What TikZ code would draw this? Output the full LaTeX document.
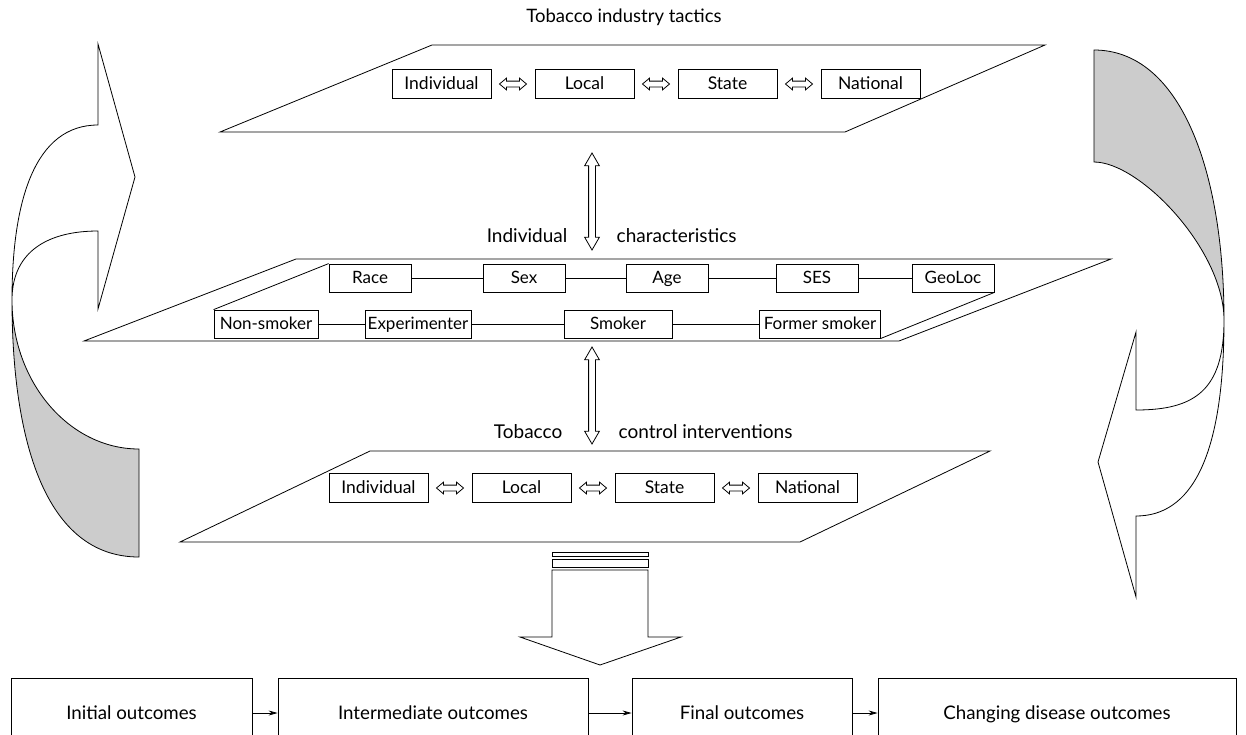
\documentclass[tikz,border=0pt]{standalone}
\usepackage{fontspec}
\setmainfont{Lato}
\usepackage{tikz}
\usetikzlibrary{arrows.meta,positioning,calc,shapes.arrows}

\tikzset{
  every node/.style={font=\fontsize{19}{22}\selectfont},
  level box/.style={draw, minimum width=99pt, minimum height=29pt, inner sep=0pt,
    text height=13pt, text depth=2pt, font=\fontsize{17.5}{20}\selectfont},
  trait box/.style={draw, minimum height=28pt, inner sep=0pt,
    text height=13pt, text depth=2pt, font=\fontsize{17}{20}\selectfont},
  outcome box/.style={draw, minimum height=70pt, inner sep=0pt,
    text height=14pt, text depth=2pt, font=\fontsize{18.7}{22}\selectfont},
  link/.style={double arrow, draw, fill=white, inner sep=0pt, inner ysep=2.5pt,
    minimum height=27pt, double arrow head extend=3pt, double arrow tip angle=80},
  big link/.style={double arrow, draw, fill=white, inner sep=0pt, inner ysep=3pt,
    minimum height=97pt, double arrow head extend=4pt, double arrow tip angle=60},
}

\begin{document}
\begin{tikzpicture}[x=1pt, y=-1pt, line width=0.8pt, >={Stealth[length=9pt,width=5pt]}]
\useasboundingbox (0,0) rectangle (1246,734);

% left loop arrow
\fill [gray!40] (12,300) .. controls (12,440) and (45,557) .. (139,557) -- (139,449)
  .. controls (69,449) and (12,382) .. (12,300);
\draw (98,125) .. controls (35,125) and (12,200) .. (12,300)
  .. controls (12,440) and (45,557) .. (139,557) -- (139,449)
  .. controls (69,449) and (12,382) .. (12,300)
  .. controls (12,250) and (50,231) .. (98,231) -- (98,309) -- (135,177) -- (98,44) -- cycle;

% right loop arrow
\fill [gray!40] (1094,50) .. controls (1180,50) and (1224,170) .. (1224,320)
  .. controls (1224,250) and (1140,162) .. (1094,162) -- cycle;
\draw (1094,50) .. controls (1180,50) and (1224,170) .. (1224,320)
  .. controls (1224,460) and (1190,516) .. (1136,516) -- (1136,597) -- (1098,462) -- (1136,332) -- (1136,410)
  .. controls (1195,410) and (1224,390) .. (1224,320)
  .. controls (1224,250) and (1140,162) .. (1094,162) -- cycle;

% industry tactics
\node [font=\fontsize{18.5}{22}\selectfont] (tactics) at (624,17) {Tobacco industry tactics};
\draw (220,132) -- (432,45) -- (1045,45) -- (845,132) -- cycle;
\foreach \l [count=\i] in {Individual,Local,State,National}
  \node [level box] (top-\i) at (298.5+143*\i,84) {\l};
\foreach \i/\j in {1/2,2/3,3/4}
  \path (top-\i) -- (top-\j) node [midway, link] {};

\coordinate (va-top) at (592,153);
\coordinate (va-bot) at (592,250);
\path (va-top) -- (va-bot) node [midway, sloped, big link] {};

% individual characteristics
\node [anchor=east] (indiv) at (571,236) {Individual};
\node [anchor=west] (chars) at (613,236) {characteristics};
\draw (84,341) -- (296,259) -- (1111,259) -- (899,341) -- cycle;

\foreach \n/\l/\x in {race/Race/370, sex/Sex/524, age/Age/667, ses/SES/817, geo/GeoLoc/953}
  \node [trait box, minimum width=82pt] (\n) at (\x,278) {\l};
\foreach \a/\b in {race/sex, sex/age, age/ses, ses/geo}
  \draw (\a) -- (\b);

\foreach \n/\l/\x/\w in {nonsm/Non-smoker/266/104, exper/Experimenter/418/106, smoker/Smoker/618/108, former/Former smoker/820/121}
  \node [trait box, minimum width=\w pt] (\n) at (\x,324) {\l};
\foreach \a/\b in {nonsm/exper, exper/smoker, smoker/former}
  \draw (\a) -- (\b);

\draw (race.north west) -- (nonsm.north west);
\draw (geo.south east) -- (former.south east);

\coordinate (vb-top) at (592,346);
\coordinate (vb-bot) at (592,445);
\path (vb-top) -- (vb-bot) node [midway, sloped, big link] {};

% control interventions
\node [anchor=east] (tob) at (566,432) {Tobacco};
\node [anchor=west] (ctrl) at (615,432) {control interventions};
\draw (180,542) -- (370,451) -- (990,451) -- (800,542) -- cycle;
\foreach \l [count=\i] in {Individual,Local,State,National}
  \node [level box] (bot-\i) at (235.5+143*\i,488) {\l};
\foreach \i/\j in {1/2,2/3,3/4}
  \path (bot-\i) -- (bot-\j) node [midway, link] {};

% big arrow down
\draw (552,552) rectangle (648,556);
\draw (552,559) rectangle (648,567);
\draw (552,570) -- (552,637) -- (520,637) -- (600,665) -- (681,637) -- (648,637) -- (648,570) -- cycle;

% outcomes
\node [outcome box, minimum width=241pt] (init) at (131.5,713) {Initial outcomes};
\node [outcome box, minimum width=310pt] (inter) at (433,713) {Intermediate outcomes};
\node [outcome box, minimum width=220pt] (final) at (742,713) {Final outcomes};
\node [outcome box, minimum width=358pt] (chang) at (1057,713) {Changing disease outcomes};
\foreach \a/\b in {init/inter, inter/final, final/chang}
  \draw [->] (\a) -- (\b);

\end{tikzpicture}
\end{document}
